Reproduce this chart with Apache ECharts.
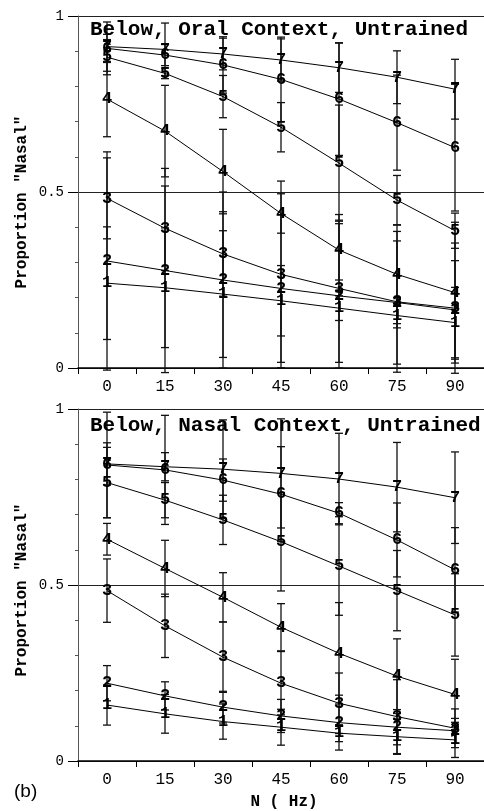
<!DOCTYPE html>
<html>
<head>
<meta charset="utf-8">
<script src="https://cdn.jsdelivr.net/npm/echarts@6/dist/echarts.min.js"></script>
<style>
  html, body { margin: 0; padding: 0; background: #fff; }
  #chart { width: 484px; height: 811px; }
</style>
</head>
<body>
<div id="chart"></div>
<script>
// Noise bandwidth conditions (Hz) on the x axis
const noiseHz = ['0', '15', '30', '45', '60', '75', '90'];
// Continuum step labels drawn at each point
const stepLabels = ['1', '2', '3', '4', '5', '6', '7'];

// Oral context: mean proportion "nasal" per step (rows = steps 1..7)
const oralMeans = [
  [0.241, 0.228, 0.210, 0.191, 0.170, 0.149, 0.129],
  [0.304, 0.277, 0.250, 0.226, 0.205, 0.186, 0.165],
  [0.482, 0.397, 0.324, 0.266, 0.226, 0.188, 0.170],
  [0.764, 0.673, 0.558, 0.439, 0.335, 0.266, 0.214],
  [0.883, 0.837, 0.771, 0.684, 0.582, 0.477, 0.390],
  [0.908, 0.889, 0.861, 0.820, 0.764, 0.697, 0.626],
  [0.913, 0.905, 0.892, 0.875, 0.853, 0.826, 0.792]
];
// Oral context: error bar half-widths
const oralErrors = [
  [0.160, 0.170, 0.180, 0.100, 0.035, 0.035, 0.100],
  [0.310, 0.290, 0.250, 0.210, 0.205, 0.175, 0.140],
  [0.115, 0.120, 0.120, 0.265, 0.210, 0.200, 0.185],
  [0.107, 0.130, 0.120, 0.056, 0.085, 0.140, 0.200],
  [0.050, 0.015, 0.060, 0.070, 0.165, 0.070, 0.050],
  [0.040, 0.030, 0.080, 0.120, 0.160, 0.135, 0.180],
  [0.070, 0.075, 0.045, 0.060, 0.070, 0.075, 0.085]
];

// Nasal context: mean proportion "nasal" per step
const nasalMeans = [
  [0.159, 0.134, 0.112, 0.096, 0.079, 0.069, 0.060],
  [0.221, 0.185, 0.153, 0.128, 0.109, 0.096, 0.086],
  [0.484, 0.384, 0.295, 0.221, 0.164, 0.126, 0.093],
  [0.630, 0.547, 0.465, 0.380, 0.306, 0.241, 0.189],
  [0.791, 0.741, 0.685, 0.623, 0.554, 0.484, 0.415],
  [0.841, 0.827, 0.798, 0.758, 0.704, 0.628, 0.543],
  [0.844, 0.836, 0.829, 0.817, 0.801, 0.778, 0.748]
];
// Nasal context: error bar half-widths
const nasalErrors = [
  [0.057, 0.055, 0.050, 0.051, 0.024, 0.050, 0.050],
  [0.050, 0.040, 0.045, 0.047, 0.078, 0.050, 0.035],
  [0.090, 0.090, 0.100, 0.090, 0.086, 0.105, 0.055],
  [0.045, 0.080, 0.070, 0.067, 0.144, 0.106, 0.100],
  [0.100, 0.050, 0.070, 0.140, 0.140, 0.114, 0.117],
  [0.150, 0.155, 0.060, 0.135, 0.030, 0.105, 0.120],
  [0.060, 0.040, 0.140, 0.155, 0.130, 0.127, 0.130]
];

const yTicks = [0, 0.5, 1];

const MONO = '"Liberation Mono", "Courier New", monospace';

const chart = echarts.init(document.getElementById('chart'), null, { renderer: 'canvas' });

function makeXAxis(gridIndex) {
  return {
    type: 'category',
    gridIndex: gridIndex,
    data: noiseHz,
    boundaryGap: true,
    axisLine: { lineStyle: { color: '#000', width: 1.5 } },
    axisTick: { show: true, length: 6, lineStyle: { color: '#000', width: 1 } },
    axisLabel: { fontFamily: MONO, fontSize: 16, color: '#000', margin: 11 },
    splitLine: { show: false }
  };
}

function makeYAxis(gridIndex) {
  return {
    type: 'value',
    gridIndex: gridIndex,
    min: 0, max: 1, interval: 0.5,
    axisLine: { show: true, lineStyle: { color: '#555', width: 1 } },
    axisTick: { show: true, length: 10, lineStyle: { color: '#000', width: 1 } },
    minorTick: { show: true, splitNumber: 5, length: 3, lineStyle: { color: '#555' } },
    axisLabel: {
      fontFamily: MONO, fontSize: 14, color: '#000', margin: 14,
      formatter: v => (yTicks.includes(v) ? String(v) : '')
    },
    splitLine: { show: true, lineStyle: { color: '#222', width: 1 } }
  };
}

function panelSeries(means, errors, axisIndex) {
  const out = [];
  // error bars with caps
  for (let s = 0; s < means.length; s++) {
    out.push({
      type: 'custom',
      xAxisIndex: axisIndex, yAxisIndex: axisIndex,
      silent: true, clip: false, z: 1,
      data: means[s].map((m, i) => [i, m, errors[s][i]]),
      encode: { x: 0, y: 1 },
      renderItem: function (params, api) {
        const i = api.value(0), m = api.value(1), e = api.value(2);
        const hi = api.coord([i, m + e]);
        const lo = api.coord([i, m - e]);
        const cap = 4;
        const ls = { stroke: '#111', lineWidth: 1.3 };
        return {
          type: 'group',
          children: [
            { type: 'line', shape: { x1: hi[0], y1: hi[1], x2: lo[0], y2: lo[1] }, style: ls },
            { type: 'line', shape: { x1: hi[0] - cap, y1: hi[1], x2: hi[0] + cap, y2: hi[1] }, style: ls },
            { type: 'line', shape: { x1: lo[0] - cap, y1: lo[1], x2: lo[0] + cap, y2: lo[1] }, style: ls }
          ]
        };
      }
    });
  }
  // connecting lines
  for (let s = 0; s < means.length; s++) {
    out.push({
      type: 'line',
      xAxisIndex: axisIndex, yAxisIndex: axisIndex,
      data: means[s],
      symbol: 'none', silent: true, z: 2,
      lineStyle: { color: '#000', width: 1 }
    });
  }
  // step numbers at each point
  for (let s = 0; s < means.length; s++) {
    out.push({
      type: 'custom',
      xAxisIndex: axisIndex, yAxisIndex: axisIndex,
      silent: true, clip: false, z: 3,
      data: means[s].map((m, i) => [i, m]),
      encode: { x: 0, y: 1 },
      renderItem: function (params, api) {
        const p = api.coord([api.value(0), api.value(1)]);
        return {
          type: 'text',
          x: p[0], y: p[1],
          style: {
            text: stepLabels[s],
            font: 'bold 17px ' + MONO,
            fill: '#000',
            align: 'center',
            verticalAlign: 'middle'
          }
        };
      }
    });
  }
  return out;
}

const option = {
  animation: false,
  backgroundColor: '#fff',
  grid: [
    { left: 78, right: -13, top: 16, height: 352 },
    { left: 78, right: -13, top: 409, height: 352 }
  ],
  xAxis: [makeXAxis(0), makeXAxis(1)],
  yAxis: [makeYAxis(0), makeYAxis(1)],
  series: panelSeries(oralMeans, oralErrors, 0).concat(panelSeries(nasalMeans, nasalErrors, 1)),
  graphic: [
    { type: 'text', x: 90, y: 30, z: 10,
      style: { text: 'Below, Oral Context, Untrained', font: 'bold 21px ' + MONO, fill: '#000', align: 'left', verticalAlign: 'middle' } },
    { type: 'text', x: 90, y: 426, z: 10,
      style: { text: 'Below, Nasal Context, Untrained', font: 'bold 21px ' + MONO, fill: '#000', align: 'left', verticalAlign: 'middle' } },
    { type: 'text', x: 22, y: 202, rotation: Math.PI / 2, z: 10,
      style: { text: 'Proportion "Nasal"', font: 'bold 16px ' + MONO, fill: '#000', align: 'center', verticalAlign: 'middle' } },
    { type: 'text', x: 22, y: 590, rotation: Math.PI / 2, z: 10,
      style: { text: 'Proportion "Nasal"', font: 'bold 16px ' + MONO, fill: '#000', align: 'center', verticalAlign: 'middle' } },
    { type: 'text', x: 284, y: 802, z: 10,
      style: { text: 'N ( Hz)', font: 'bold 16px ' + MONO, fill: '#000', align: 'center', verticalAlign: 'middle' } },
    { type: 'text', x: 14, y: 792, z: 10,
      style: { text: '(b)', font: '19px "Liberation Sans", Arial, sans-serif', fill: '#000', align: 'left', verticalAlign: 'middle' } }
  ]
};

chart.setOption(option);
</script>
</body>
</html>
